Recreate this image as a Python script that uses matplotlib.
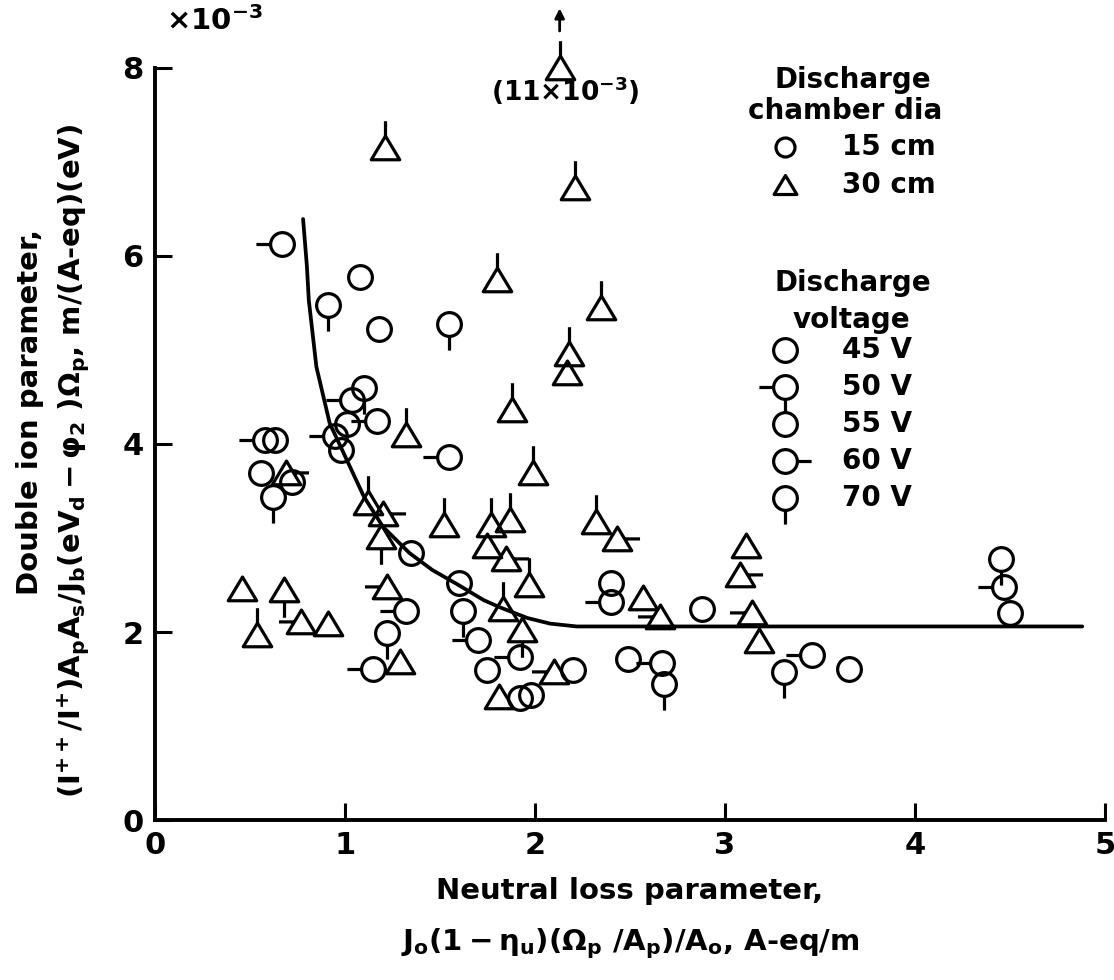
import matplotlib
matplotlib.use('Agg')
import matplotlib.pyplot as plt
from matplotlib.path import Path
from matplotlib.markers import MarkerStyle

plt.rcParams['font.family'] = 'DejaVu Sans'
plt.rcParams['font.weight'] = 'bold'
plt.rcParams['axes.labelweight'] = 'bold'
plt.rcParams['mathtext.fontset'] = 'custom'
plt.rcParams['mathtext.rm'] = 'DejaVu Sans:bold'
plt.rcParams['mathtext.it'] = 'DejaVu Sans:bold'
plt.rcParams['mathtext.bf'] = 'DejaVu Sans:bold'
plt.rcParams['mathtext.default'] = 'rm'

# 15 cm discharge chamber (circles): x, y (x10^-3), discharge voltage
circ_x = [0.67, 1.08, 0.91, 1.18, 1.55, 1.10, 1.04, 1.01, 1.17, 0.95, 0.98, 0.58, 0.63, 0.56,
          0.72, 0.62, 1.55, 1.35, 1.60, 1.32, 1.62, 1.70, 1.22, 1.15, 1.75, 1.92, 2.20, 1.92,
          1.98, 2.40, 2.40, 2.88, 2.49, 2.67, 2.68, 3.31, 3.46, 3.65, 4.45, 4.47, 4.50]
circ_y = [6.13, 5.77, 5.48, 5.22, 5.28, 4.59, 4.47, 4.21, 4.24, 4.08, 3.94, 4.04, 4.04, 3.69,
          3.60, 3.44, 3.86, 2.84, 2.52, 2.22, 2.22, 1.92, 1.99, 1.61, 1.60, 1.74, 1.60, 1.30,
          1.33, 2.52, 2.32, 2.25, 1.71, 1.67, 1.45, 1.58, 1.76, 1.61, 2.78, 2.48, 2.20]
circ_v = [50, 45, 70, 45, 70, 70, 50, 45, 50, 50, 45, 50, 45, 45,
          45, 70, 50, 45, 45, 50, 70, 50, 70, 50, 45, 50, 45, 45,
          45, 45, 50, 45, 45, 50, 70, 70, 50, 45, 70, 50, 45]

# 30 cm discharge chamber (triangles)
tri_x = [2.13, 2.21, 1.80, 2.35, 2.18, 2.17, 1.88, 1.21, 1.32, 1.99, 1.52, 1.77, 1.87, 1.75,
         1.85, 1.97, 2.32, 2.43, 1.20, 0.69, 1.12, 1.19, 1.22, 0.46, 0.68, 0.77, 0.91, 0.54,
         1.29, 1.83, 1.93, 2.10, 1.81, 2.57, 2.66, 3.11, 3.08, 3.14, 3.18]
tri_y = [8.00, 6.72, 5.74, 5.44, 4.96, 4.75, 4.36, 7.15, 4.10, 3.69, 3.14, 3.14, 3.19, 2.91,
         2.78, 2.50, 3.17, 2.99, 3.26, 3.69, 3.37, 3.01, 2.48, 2.46, 2.45, 2.11, 2.09, 1.97,
         1.68, 2.25, 2.02, 1.58, 1.31, 2.36, 2.16, 2.91, 2.61, 2.20, 1.91]
tri_v = [55, 55, 55, 55, 55, 45, 55, 55, 55, 55, 55, 55, 55, 45,
         60, 55, 55, 60, 60, 60, 55, 70, 50, 45, 70, 50, 45, 55,
         45, 55, 70, 50, 45, 45, 50, 45, 60, 50, 45]

# faired curve
curve_x = [0.78, 0.80, 0.81, 0.85, 0.92, 1.01, 1.10, 1.20, 1.34, 1.46, 1.59, 1.73, 1.82,
           1.96, 2.08, 2.22, 2.5, 3.0, 3.5, 4.0, 4.5, 4.88]
curve_y = [6.39, 5.89, 5.53, 4.82, 4.22, 3.83, 3.44, 3.12, 2.84, 2.66, 2.51, 2.34, 2.26,
           2.15, 2.09, 2.06, 2.06, 2.06, 2.06, 2.06, 2.06, 2.06]

volt_flag = {45: None, 50: 'left', 55: 'up', 60: 'right', 70: 'down'}
volt_labels = [45, 50, 55, 60, 70]

R = 2.4


def make_marker(shape, flag):
    if shape == 'o':
        c = Path.unit_circle()
        verts = c.vertices.tolist()
        codes = c.codes.tolist()
        edge = {'left': (-1, 0), 'right': (1, 0), 'up': (0, 1), 'down': (0, -1)}
        tip = {'left': (-2.2, 0), 'right': (2.2, 0), 'up': (0, 2.2), 'down': (0, -2.2)}
    else:
        verts = [(0, 1.05), (-1.2, -0.95), (1.2, -0.95), (0, 1.05)]
        codes = [Path.MOVETO, Path.LINETO, Path.LINETO, Path.CLOSEPOLY]
        edge = {'left': (-0.6, 0.05), 'right': (0.6, 0.05), 'up': (0, 1.05), 'down': (0, -0.95)}
        tip = {'left': (-1.9, 0.05), 'right': (1.9, 0.05), 'up': (0, 2.3), 'down': (0, -2.3)}
    if flag:
        verts += [edge[flag], tip[flag]]
        codes += [Path.MOVETO, Path.LINETO]
    verts += [(R, R), (-R, -R)]
    codes += [Path.MOVETO, Path.MOVETO]
    return MarkerStyle(Path(verts, codes))


MS = 41
MEW = 2.3
FS = 21

fig = plt.figure(figsize=(11.14, 9.8), dpi=100)
ax = fig.add_axes([0.139, 0.163, 0.853, 0.768])

ax.plot(curve_x, curve_y, color='k', lw=2.7, solid_capstyle='round')

for shape, xs, ys, vs in [('o', circ_x, circ_y, circ_v), ('^', tri_x, tri_y, tri_v)]:
    for v in volt_labels:
        px = [x for x, vv in zip(xs, vs) if vv == v]
        py = [y for y, vv in zip(ys, vs) if vv == v]
        ax.plot(px, py, ls='none', marker=make_marker(shape, volt_flag[v]), ms=MS,
                mfc='none', mec='k', mew=MEW, clip_on=False)

ax.set_xlim(0, 5)
ax.set_ylim(0, 8)
ax.set_xticks([0, 1, 2, 3, 4, 5])
ax.set_yticks([0, 2, 4, 6, 8])
ax.spines['top'].set_visible(False)
ax.spines['right'].set_visible(False)
ax.spines['left'].set_linewidth(2.8)
ax.spines['bottom'].set_linewidth(2.8)
ax.tick_params(direction='in', length=12, width=2.2, labelsize=22, pad=8)

ax.set_xlabel('Neutral loss parameter,\n'
              r'$J_o(1-\eta_u)(\Omega_p\ /A_p)/A_o$, A-eq/m',
              fontsize=FS, linespacing=1.9, labelpad=12)

# two-line y label, each line placed on its own
fig.text(0.027, 0.58, 'Double ion parameter,', rotation=90, fontsize=FS,
         ha='center', va='center')
fig.text(0.066, 0.53,
         r'$(I^{++}/I^{+})A_pA_s/J_b(eV_d-\varphi_2\ )\Omega_p$, m/(A-eq)(eV)',
         rotation=90, fontsize=FS, ha='center', va='center')

ax.text(0.012, 1.062, r'$\times$10$^{-3}$', transform=ax.transAxes, fontsize=21,
        va='center', ha='left')

# off-scale point
ax.text(0.432, 0.969, r'(11$\times$10$^{-3}$)', transform=ax.transAxes, fontsize=19,
        ha='center', va='center')
ax.annotate('', xy=(tri_x[0], 8.66), xytext=(tri_x[0], 8.36),
            arrowprops=dict(arrowstyle='-|>', color='k', lw=2, mutation_scale=14),
            annotation_clip=False)

# legend block
lx_m, lx_t = 0.663, 0.723
ax.text(0.735, 0.984, 'Discharge', transform=ax.transAxes, fontsize=20, ha='center', va='center')
ax.text(0.726, 0.943, 'chamber dia', transform=ax.transAxes, fontsize=20, ha='center', va='center')
for shape, yy, lab in [('o', 0.895, '15 cm'), ('^', 0.844, '30 cm')]:
    ax.plot([lx_m], [yy], transform=ax.transAxes, ls='none', marker=make_marker(shape, None),
            ms=MS * 0.8, mfc='none', mec='k', mew=MEW, clip_on=False)
    ax.text(lx_t, yy, lab, transform=ax.transAxes, fontsize=20, ha='left', va='center')

ax.text(0.735, 0.714, 'Discharge', transform=ax.transAxes, fontsize=20, ha='center', va='center')
ax.text(0.733, 0.665, 'voltage', transform=ax.transAxes, fontsize=20, ha='center', va='center')
for i, v in enumerate(volt_labels):
    yy = 0.625 - i * 0.0493
    ax.plot([lx_m], [yy], transform=ax.transAxes, ls='none', marker=make_marker('o', volt_flag[v]),
            ms=MS, mfc='none', mec='k', mew=MEW, clip_on=False)
    ax.text(lx_t, yy, f'{v} V', transform=ax.transAxes, fontsize=20, ha='left', va='center')

fig.savefig('out.png', dpi=100)
